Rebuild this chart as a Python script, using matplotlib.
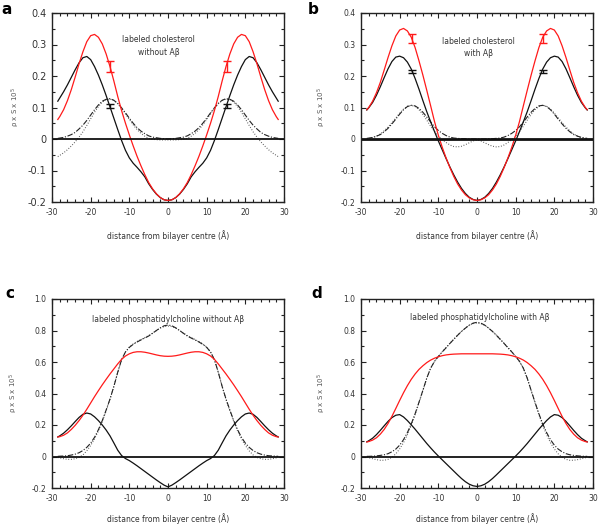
import matplotlib
matplotlib.use("Agg")
import matplotlib.pyplot as plt
from matplotlib.ticker import MultipleLocator, FixedLocator

plt.rcParams['font.family'] = ['DejaVu Sans']

# distance from bilayer centre (Angstrom)
x = [-28.5, -28, -27, -26, -25, -24, -23, -22, -21, -20, -19, -18, -17, -16, -15,
     -14, -13, -12, -11, -10, -9, -8, -7, -6, -5, -4, -3, -2, -1, 0,
     1, 2, 3, 4, 5, 6, 7, 8, 9, 10, 11, 12, 13, 14, 15, 16, 17, 18, 19, 20,
     21, 22, 23, 24, 25, 26, 27, 28, 28.5]

# ---- panel a : labeled cholesterol without Abeta ----
a_red = [0.062, 0.071, 0.093, 0.122, 0.157, 0.197, 0.239, 0.277, 0.309, 0.328, 0.332, 0.323, 0.302, 0.270, 0.230,
         0.184, 0.135, 0.090, 0.050, 0.013, -0.022, -0.055, -0.085, -0.113, -0.138, -0.158, -0.174, -0.186, -0.193, -0.195,
         -0.193, -0.186, -0.174, -0.158, -0.138, -0.113, -0.085, -0.055, -0.022, 0.013, 0.050, 0.090, 0.135, 0.184, 0.230,
         0.270, 0.302, 0.323, 0.332, 0.328, 0.309, 0.277, 0.239, 0.197, 0.157, 0.122, 0.093, 0.071, 0.062]
a_black = [0.120, 0.130, 0.150, 0.172, 0.196, 0.220, 0.242, 0.258, 0.262, 0.252, 0.230, 0.203, 0.172, 0.138, 0.102,
           0.066, 0.030, -0.005, -0.036, -0.060, -0.077, -0.090, -0.104, -0.120, -0.142, -0.160, -0.175, -0.186, -0.193, -0.195,
           -0.193, -0.186, -0.175, -0.160, -0.142, -0.120, -0.104, -0.090, -0.077, -0.060, -0.036, -0.005, 0.030, 0.066, 0.102,
           0.138, 0.172, 0.203, 0.230, 0.252, 0.262, 0.258, 0.242, 0.220, 0.196, 0.172, 0.150, 0.130, 0.120]
a_dashed = [0.002, 0.003, 0.005, 0.009, 0.014, 0.021, 0.032, 0.044, 0.059, 0.076, 0.093, 0.108, 0.120, 0.126, 0.128,
            0.123, 0.113, 0.099, 0.083, 0.066, 0.050, 0.036, 0.025, 0.017, 0.010, 0.006, 0.004, 0.002, 0.001, 0.000,
            0.001, 0.002, 0.004, 0.006, 0.010, 0.017, 0.025, 0.036, 0.050, 0.066, 0.083, 0.099, 0.113, 0.123, 0.128,
            0.126, 0.120, 0.108, 0.093, 0.076, 0.059, 0.044, 0.032, 0.021, 0.014, 0.009, 0.005, 0.003, 0.002]
a_dotted = [-0.056, -0.052, -0.044, -0.034, -0.022, -0.009, 0.006, 0.023, 0.043, 0.064, 0.085, 0.103, 0.117, 0.125, 0.127,
            0.122, 0.112, 0.097, 0.080, 0.062, 0.045, 0.030, 0.018, 0.009, 0.002, -0.001, -0.002, -0.003, -0.003, -0.003,
            -0.003, -0.003, -0.002, -0.001, 0.002, 0.009, 0.018, 0.030, 0.045, 0.062, 0.080, 0.097, 0.112, 0.122, 0.127,
            0.125, 0.117, 0.103, 0.085, 0.064, 0.043, 0.023, 0.006, -0.009, -0.022, -0.034, -0.044, -0.052, -0.056]
a_err_x = [-15.0, 15.2]
a_err_red = [0.231, 0.231]
a_err_red_size = [0.017, 0.017]
a_err_black = [0.1045, 0.1045]
a_err_black_size = [0.0055, 0.0055]

# ---- panel b : labeled cholesterol with Abeta ----
b_red = [0.093, 0.100, 0.120, 0.147, 0.180, 0.219, 0.259, 0.296, 0.327, 0.346, 0.351, 0.343, 0.323, 0.290, 0.248,
         0.203, 0.155, 0.106, 0.056, 0.012, -0.026, -0.060, -0.091, -0.119, -0.143, -0.162, -0.177, -0.187, -0.193, -0.195,
         -0.193, -0.187, -0.177, -0.162, -0.143, -0.119, -0.091, -0.060, -0.026, 0.012, 0.056, 0.106, 0.155, 0.203, 0.248,
         0.290, 0.323, 0.343, 0.351, 0.346, 0.327, 0.296, 0.259, 0.219, 0.180, 0.147, 0.120, 0.100, 0.093]
b_black = [0.092, 0.099, 0.116, 0.139, 0.166, 0.195, 0.223, 0.246, 0.260, 0.263, 0.258, 0.244, 0.222, 0.192, 0.158,
           0.122, 0.087, 0.055, 0.024, -0.006, -0.034, -0.062, -0.089, -0.114, -0.137, -0.157, -0.173, -0.185, -0.192, -0.195,
           -0.192, -0.185, -0.173, -0.157, -0.137, -0.114, -0.089, -0.062, -0.034, -0.006, 0.024, 0.055, 0.087, 0.122, 0.158,
           0.192, 0.222, 0.244, 0.258, 0.263, 0.260, 0.246, 0.223, 0.195, 0.166, 0.139, 0.116, 0.099, 0.092]
b_dashed = [0.002, 0.003, 0.005, 0.009, 0.014, 0.023, 0.034, 0.048, 0.063, 0.079, 0.093, 0.103, 0.107, 0.105, 0.097,
            0.085, 0.070, 0.054, 0.039, 0.027, 0.018, 0.011, 0.006, 0.003, 0.002, 0.001, 0.001, 0.000, 0.000, 0.000,
            0.000, 0.000, 0.001, 0.001, 0.002, 0.003, 0.006, 0.011, 0.018, 0.027, 0.039, 0.054, 0.070, 0.085, 0.097,
            0.105, 0.107, 0.103, 0.093, 0.079, 0.063, 0.048, 0.034, 0.023, 0.014, 0.009, 0.005, 0.003, 0.002]
b_dotted = [0.000, 0.001, 0.004, 0.009, 0.016, 0.026, 0.038, 0.052, 0.067, 0.082, 0.095, 0.104, 0.107, 0.103, 0.093,
            0.078, 0.060, 0.041, 0.024, 0.009, -0.002, -0.011, -0.019, -0.024, -0.025, -0.023, -0.018, -0.012, -0.006, -0.003,
            -0.006, -0.012, -0.018, -0.023, -0.025, -0.024, -0.019, -0.011, -0.002, 0.009, 0.024, 0.041, 0.060, 0.078, 0.093,
            0.103, 0.107, 0.104, 0.095, 0.082, 0.067, 0.052, 0.038, 0.026, 0.016, 0.009, 0.004, 0.001, 0.000]
b_err_x = [-16.8, 17.0]
b_err_red = [0.3185, 0.3185]
b_err_red_size = [0.0145, 0.0145]
b_err_black = [0.214, 0.214]
b_err_black_size = [0.005, 0.005]

# ---- panel c : labeled phosphatidylcholine without Abeta ----
c_red = [0.124, 0.126, 0.135, 0.150, 0.172, 0.198, 0.228, 0.262, 0.300, 0.340, 0.380, 0.418, 0.455, 0.490, 0.524,
         0.556, 0.588, 0.617, 0.638, 0.652, 0.661, 0.665, 0.665, 0.662, 0.657, 0.651, 0.645, 0.640, 0.637, 0.636,
         0.637, 0.640, 0.645, 0.651, 0.657, 0.662, 0.665, 0.665, 0.661, 0.652, 0.638, 0.617, 0.588, 0.556, 0.524,
         0.490, 0.455, 0.418, 0.380, 0.340, 0.300, 0.262, 0.228, 0.198, 0.172, 0.150, 0.135, 0.126, 0.124]
c_black = [0.124, 0.131, 0.148, 0.170, 0.195, 0.222, 0.248, 0.268, 0.276, 0.270, 0.252, 0.228, 0.200, 0.168, 0.131,
           0.086, 0.040, 0.006, -0.013, -0.026, -0.042, -0.059, -0.077, -0.095, -0.113, -0.131, -0.149, -0.166, -0.182, -0.193,
           -0.182, -0.166, -0.149, -0.131, -0.113, -0.095, -0.077, -0.059, -0.042, -0.026, -0.013, 0.006, 0.040, 0.086, 0.131,
           0.168, 0.200, 0.228, 0.252, 0.270, 0.276, 0.268, 0.248, 0.222, 0.195, 0.170, 0.148, 0.131, 0.124]
c_dashed = [0.001, 0.002, 0.003, 0.005, 0.009, 0.015, 0.024, 0.038, 0.058, 0.085, 0.122, 0.170, 0.228, 0.295, 0.365,
            0.445, 0.535, 0.615, 0.664, 0.693, 0.712, 0.727, 0.740, 0.752, 0.765, 0.782, 0.800, 0.817, 0.830, 0.835,
            0.830, 0.817, 0.800, 0.782, 0.765, 0.752, 0.740, 0.727, 0.712, 0.693, 0.664, 0.615, 0.535, 0.445, 0.365,
            0.295, 0.228, 0.170, 0.122, 0.085, 0.058, 0.038, 0.024, 0.015, 0.009, 0.005, 0.003, 0.002, 0.001]
c_dotted = [-0.006, -0.009, -0.014, -0.018, -0.018, -0.014, -0.006, 0.010, 0.036, 0.070, 0.112, 0.162, 0.222, 0.290, 0.362,
            0.445, 0.535, 0.615, 0.664, 0.695, 0.715, 0.730, 0.743, 0.755, 0.768, 0.783, 0.800, 0.815, 0.825, 0.828,
            0.825, 0.815, 0.800, 0.783, 0.768, 0.755, 0.743, 0.730, 0.715, 0.695, 0.664, 0.615, 0.535, 0.445, 0.362,
            0.290, 0.222, 0.162, 0.112, 0.070, 0.036, 0.010, -0.006, -0.014, -0.018, -0.018, -0.014, -0.009, -0.006]

# ---- panel d : labeled phosphatidylcholine with Abeta ----
d_red = [0.092, 0.095, 0.104, 0.119, 0.142, 0.172, 0.210, 0.255, 0.305, 0.356, 0.405, 0.450, 0.490, 0.524, 0.553,
         0.576, 0.596, 0.612, 0.624, 0.633, 0.640, 0.645, 0.648, 0.650, 0.651, 0.652, 0.652, 0.652, 0.652, 0.652,
         0.652, 0.652, 0.652, 0.652, 0.651, 0.650, 0.648, 0.645, 0.640, 0.633, 0.624, 0.612, 0.596, 0.576, 0.553,
         0.524, 0.490, 0.450, 0.405, 0.356, 0.305, 0.255, 0.210, 0.172, 0.142, 0.119, 0.104, 0.095, 0.092]
d_black = [0.093, 0.100, 0.116, 0.139, 0.166, 0.195, 0.223, 0.247, 0.262, 0.266, 0.251, 0.228, 0.201, 0.173, 0.143,
           0.113, 0.083, 0.055, 0.028, 0.003, -0.021, -0.045, -0.069, -0.093, -0.117, -0.140, -0.160, -0.176, -0.186, -0.190,
           -0.186, -0.176, -0.160, -0.140, -0.117, -0.093, -0.069, -0.045, -0.021, 0.003, 0.028, 0.055, 0.083, 0.113, 0.143,
           0.173, 0.201, 0.228, 0.251, 0.266, 0.262, 0.247, 0.223, 0.195, 0.166, 0.139, 0.116, 0.100, 0.093]
d_dashed = [0.001, 0.001, 0.002, 0.004, 0.007, 0.011, 0.018, 0.030, 0.047, 0.072, 0.107, 0.152, 0.207, 0.272, 0.345,
            0.420, 0.497, 0.560, 0.604, 0.635, 0.664, 0.690, 0.718, 0.744, 0.770, 0.794, 0.815, 0.834, 0.847, 0.852,
            0.847, 0.834, 0.815, 0.794, 0.770, 0.744, 0.718, 0.690, 0.664, 0.635, 0.604, 0.560, 0.497, 0.420, 0.345,
            0.272, 0.207, 0.152, 0.107, 0.072, 0.047, 0.030, 0.018, 0.011, 0.007, 0.004, 0.002, 0.001, 0.001]
d_dotted = [-0.005, -0.008, -0.014, -0.020, -0.024, -0.024, -0.018, -0.005, 0.017, 0.048, 0.088, 0.138, 0.198, 0.266, 0.341,
            0.418, 0.496, 0.560, 0.603, 0.635, 0.665, 0.692, 0.719, 0.745, 0.771, 0.795, 0.816, 0.833, 0.844, 0.848,
            0.844, 0.833, 0.816, 0.795, 0.771, 0.745, 0.719, 0.692, 0.665, 0.635, 0.603, 0.560, 0.496, 0.418, 0.341,
            0.266, 0.198, 0.138, 0.088, 0.048, 0.017, -0.005, -0.018, -0.024, -0.024, -0.020, -0.014, -0.008, -0.005]

for arr in [a_red, a_black, a_dashed, a_dotted, b_red, b_black, b_dashed, b_dotted,
            c_red, c_black, c_dashed, c_dotted, d_red, d_black, d_dashed, d_dotted]:
    assert len(arr) == len(x), len(arr)

x_ticks = [-30, -20, -10, 0, 10, 20, 30]
x_tick_labels = ['-30', '-20', '-10', '0', '10', '20', '30']
ab_y_ticks = [-0.2, -0.1, 0, 0.1, 0.2, 0.3, 0.4]
ab_y_tick_labels = ['-0.2', '-0.1', '0', '0.1', '0.2', '0.3', '0.4']
cd_y_ticks = [-0.2, 0, 0.2, 0.4, 0.6, 0.8, 1.0]
cd_y_tick_labels = ['-0.2', '0', '0.2', '0.4', '0.6', '0.8', '1.0']

titles = ["labeled cholesterol\nwithout A\u03b2", "labeled cholesterol\nwith A\u03b2",
          "labeled phosphatidylcholine without A\u03b2", "labeled phosphatidylcholine with A\u03b2"]
panel_letters = ['a', 'b', 'c', 'd']

W, H = 600, 525
fig = plt.figure(figsize=(6.0, 5.25), dpi=100)

def px_axes(l, t, r, b):
    return fig.add_axes([l / W, 1 - b / H, (r - l) / W, (b - t) / H])

ax_a = px_axes(52, 13, 284, 202)
ax_b = px_axes(361, 13, 593, 202)
ax_c = px_axes(52, 299, 284, 488)
ax_d = px_axes(361, 299, 593, 488)

RED = '#ff1a1a'
TXT = '#333333'

def style(ax, yt, ytl, ylim, yminor, ytick_fs, xlab_off):
    ax.set_xlim(-30, 30)
    ax.set_ylim(*ylim)
    ax.xaxis.set_major_locator(FixedLocator(x_ticks))
    ax.set_xticklabels(x_tick_labels)
    ax.xaxis.set_minor_locator(MultipleLocator(2))
    ax.yaxis.set_major_locator(FixedLocator(yt))
    ax.set_yticklabels(ytl)
    ax.yaxis.set_minor_locator(MultipleLocator(yminor))
    ax.tick_params(which='both', direction='in', top=True, right=True, colors='#222222',
                   width=0.8)
    ax.tick_params(which='major', length=3.5, pad=4)
    ax.tick_params(which='minor', length=2)
    ax.tick_params(axis='x', labelsize=5.5, labelcolor=TXT)
    ax.tick_params(axis='y', labelsize=ytick_fs, labelcolor=TXT)
    for s in ax.spines.values():
        s.set_linewidth(1.0)
        s.set_color('#222222')
    ax.set_xlabel("distance from bilayer centre (\u00c5)", fontsize=5.5, color=TXT)
    ax.xaxis.set_label_coords(0.5, -xlab_off / 189)
    ax.set_ylabel("\u03c1 x S x 10$^5$", fontsize=5, color='#555555')

def draw(ax, red, black, dashed, dotted, zlw):
    ax.plot(x, dotted, color='#555555', lw=0.8, linestyle=(0, (0.8, 1.6)))
    ax.plot(x, dashed, color='#222222', lw=0.8, linestyle=(0, (5, 1.5, 1, 1.5)))
    ax.plot(x, black, color='#111111', lw=0.9)
    ax.plot(x, red, color=RED, lw=0.9)
    ax.axhline(0, color='#111111', lw=zlw)

panels = [
    (ax_a, a_red, a_black, a_dashed, a_dotted, ab_y_ticks, ab_y_tick_labels, (-0.2, 0.4), 0.05, 7, 1.3, 28),
    (ax_b, b_red, b_black, b_dashed, b_dotted, ab_y_ticks, ab_y_tick_labels, (-0.2, 0.4), 0.05, 5.5, 2.0, 28),
    (ax_c, c_red, c_black, c_dashed, c_dotted, cd_y_ticks, cd_y_tick_labels, (-0.2, 1.0), 0.1, 5.5, 1.3, 25),
    (ax_d, d_red, d_black, d_dashed, d_dotted, cd_y_ticks, cd_y_tick_labels, (-0.2, 1.0), 0.1, 5.5, 1.3, 25),
]
for (ax, r, k, da, do, yt, ytl, yl, ym, yfs, zlw, xo) in panels:
    draw(ax, r, k, da, do, zlw)
    style(ax, yt, ytl, yl, ym, yfs, xo)

ax_a.yaxis.set_label_coords(-30 / 232, 0.5)
ax_b.yaxis.set_label_coords(-33 / 232, 0.5)
ax_c.yaxis.set_label_coords(-32 / 232, 0.5)
ax_d.yaxis.set_label_coords(-33 / 232, 0.5)

# error bars
for ax, ex, ry, rs, ky, ks in [(ax_a, a_err_x, a_err_red, a_err_red_size, a_err_black, a_err_black_size),
                               (ax_b, b_err_x, b_err_red, b_err_red_size, b_err_black, b_err_black_size)]:
    ax.errorbar(ex, ry, yerr=rs, fmt='none', ecolor=RED, elinewidth=1.0, capsize=2.6, capthick=1.0)
    ax.errorbar(ex, ky, yerr=ks, fmt='none', ecolor='#111111', elinewidth=1.0, capsize=2.6, capthick=1.0)

# annotations
ax_a.text(-2.4, 0.295, titles[0], ha='center', va='center', fontsize=5.5, color=TXT, linespacing=1.5)
ax_b.text(0.3, 0.29, titles[1], ha='center', va='center', fontsize=5.5, color=TXT, linespacing=1.5)
ax_c.text(0.0, 0.87, titles[2], ha='center', va='center', fontsize=5.5, color=TXT)
ax_d.text(0.8, 0.883, titles[3], ha='center', va='center', fontsize=5.5, color=TXT)

for lbl, (px, py) in zip(panel_letters, [(7, 10), (313, 10), (10, 293), (317, 293)]):
    fig.text(px / W, 1 - py / H, lbl, fontsize=11, fontweight='bold', ha='center', va='center', color='black')

fig.savefig('out.png', dpi=100)
